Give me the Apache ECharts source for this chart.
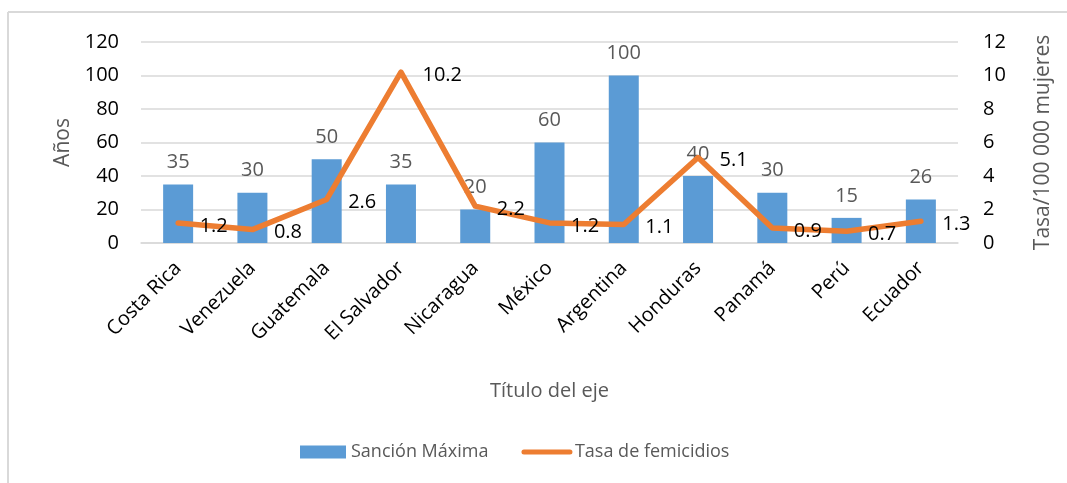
<!DOCTYPE html>
<html>
<head>
<meta charset="utf-8">
<script src="https://cdn.jsdelivr.net/npm/echarts@6/dist/echarts.min.js"></script>
<style>
html,body{margin:0;padding:0;background:#fff;}
#c{width:1067px;height:483px;}
</style>
</head>
<body>
<div id="c"></div>
<script>
const categories = ['Costa Rica','Venezuela','Guatemala','El Salvador','Nicaragua','México','Argentina','Honduras','Panamá','Perú','Ecuador'];
const sancionMaxima = [35,30,50,35,20,60,100,40,30,15,26];
const tasaFemicidios = [1.2,0.8,2.6,10.2,2.2,1.2,1.1,5.1,0.9,0.7,1.3];
const leftTicks = {min:0,max:120,interval:20};
const rightTicks = {min:0,max:12,interval:2};

const FONT = '"Open Sans", "Noto Sans", sans-serif';
const chart = echarts.init(document.getElementById('c'));
chart.setOption({
  animation:false,
  textStyle:{fontFamily:FONT},
  graphic:[
    {type:'line',shape:{x1:8,y1:12,x2:1067,y2:12},style:{stroke:'#D9D9D9',lineWidth:2}},
    {type:'line',shape:{x1:8,y1:12,x2:8,y2:483},style:{stroke:'#D9D9D9',lineWidth:2}}
  ],
  grid:{left:141,right:109,top:42,bottom:240,containLabel:false,outerBoundsMode:'none'},
  legend:{
    left:295, top:438,
    itemWidth:46, itemHeight:13, itemGap:33,
    textStyle:{color:'#595959',fontSize:18,fontFamily:FONT},
    data:[
      {name:'Sanción Máxima',icon:'rect'},
      {name:'Tasa de femicidios',itemStyle:{opacity:0},lineStyle:{width:5,cap:'round',color:'#ED7D31'}}
    ]
  },
  xAxis:{
    type:'category', data:categories,
    axisLine:{lineStyle:{color:'#D9D9D9',width:1.5}},
    axisTick:{show:false},
    axisLabel:{rotate:45,color:'#000',fontSize:20,margin:22,interval:0,fontFamily:FONT},
    name:'Título del eje', nameLocation:'middle', nameGap:138,
    nameTextStyle:{color:'#595959',fontSize:20,fontFamily:FONT}
  },
  yAxis:[
    {type:'value',min:leftTicks.min,max:leftTicks.max,interval:leftTicks.interval,
     axisLine:{show:false},axisTick:{show:false},
     axisLabel:{color:'#000',fontSize:20,margin:22,fontFamily:FONT},
     splitLine:{lineStyle:{color:'#D9D9D9',width:1.5}},
     name:'Años',nameLocation:'middle',nameRotate:90,nameGap:66,
     nameTextStyle:{color:'#595959',fontSize:21,fontFamily:FONT}},
    {type:'value',min:rightTicks.min,max:rightTicks.max,interval:rightTicks.interval,position:'right',
     axisLine:{show:false},axisTick:{show:false},splitLine:{show:false},
     axisLabel:{color:'#000',fontSize:20,margin:25,fontFamily:FONT},
     name:'Tasa/100 000 mujeres',nameLocation:'middle',nameRotate:90,nameGap:75,
     nameTextStyle:{color:'#595959',fontSize:21,fontFamily:FONT}}
  ],
  series:[
    {name:'Sanción Máxima',type:'bar',data:sancionMaxima,barWidth:30,yAxisIndex:0,
     itemStyle:{color:'#5B9BD5'},
     label:{show:true,position:'top',distance:12,color:'#595959',fontSize:20,fontFamily:FONT}},
    {name:'Tasa de femicidios',type:'line',data:tasaFemicidios,yAxisIndex:1,
     symbol:'circle',symbolSize:1,showSymbol:true,
     itemStyle:{color:'#ED7D31'},
     lineStyle:{color:'#ED7D31',width:5.5,cap:'round',join:'round'},
     label:{show:true,position:'right',distance:21,offset:[0,3],color:'#000',fontSize:20,fontFamily:FONT}}
  ]
});
</script>
</body>
</html>
